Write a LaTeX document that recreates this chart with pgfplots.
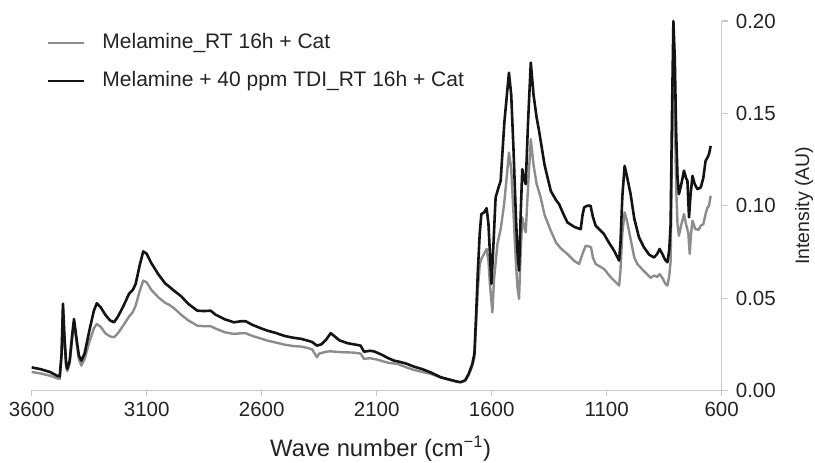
\documentclass[border=0pt]{standalone}
\usepackage{pgfplots}
\pgfplotsset{compat=1.18}
\usepackage{fontspec}
\setmainfont{Liberation Sans}
\definecolor{axgray}{RGB}{200,200,200}
\definecolor{lgray}{RGB}{140,140,140}
\definecolor{dblack}{RGB}{20,20,20}
\definecolor{txt}{RGB}{35,35,35}
\begin{document}
\begin{tikzpicture}
\begin{axis}[
  scale only axis,
  width=690pt, height=369.5pt,
  x dir=reverse,
  xmin=600, xmax=3600, ymin=0, ymax=0.2,
  axis x line*=bottom, axis y line*=right,
  axis line style={axgray, line width=1.2pt},
  xtick={600,1100,1600,2100,2600,3100,3600},
  ytick={0,0.05,0.1,0.15,0.2},
  tick style={axgray, line width=1.2pt},
  major tick length=6pt,
  tick align=outside,
  xticklabel style={/pgf/number format/set thousands separator={}, anchor=base, inner sep=0pt, yshift=-20pt},
  yticklabel style={/pgf/number format/fixed, /pgf/number format/fixed zerofill, /pgf/number format/precision=2, anchor=west, inner sep=0pt, xshift=8pt},
  /pgf/number format/assume math mode=true,
  ticklabel style={font=\fontsize{20.5}{24}\selectfont, text=txt},
  xlabel={Wave number (cm\textsuperscript{−1})},
  ylabel={Intensity (AU)},
  every axis x label/.style={at={(rel axis cs:0.5,0)}, anchor=base, yshift=-66.5pt, xshift=4pt, font=\fontsize{23.8}{27}\selectfont, text=txt, inner sep=0pt},
  every axis y label/.style={at={(rel axis cs:1,0.5)}, xshift=73pt, rotate=90, anchor=north, inner sep=0pt, font=\fontsize{19.5}{22}\selectfont, text=txt},
  legend style={draw=none, fill=none, at={(0,1)}, anchor=north west, xshift=15pt, yshift=-12pt,
    font=\fontsize{21}{24}\selectfont, text=txt, row sep=18pt, column sep=0pt, inner sep=0pt,
    nodes={inner sep=0pt, text height=15pt, text depth=5pt}},
  legend cell align=left,
  legend image code/.code={\draw[#1] (0pt,0pt) -- (36pt,0pt) (53pt,0pt);},
  every axis plot/.append style={line join=round},
]
\addplot[lgray, line width=2.4pt] coordinates {
(3600,0.0100)(3560,0.0092)(3520,0.0080)(3490,0.0066)(3478,0.0063)(3470,0.0190)(3464,0.0450)(3458,0.0280)
(3450,0.0125)(3445,0.0105)(3435,0.0145)(3424,0.0280)(3416,0.0370)(3405,0.0260)(3395,0.0170)(3384,0.0135)
(3370,0.0170)(3350,0.0260)(3330,0.0335)(3317,0.0360)(3300,0.0345)(3280,0.0310)(3260,0.0293)(3242,0.0288)
(3225,0.0310)(3200,0.0355)(3177,0.0400)(3160,0.0425)(3148,0.0460)(3130,0.0540)(3115,0.0595)(3100,0.0585)
(3080,0.0545)(3050,0.0505)(3020,0.0475)(3000,0.0462)(2981,0.0445)(2950,0.0410)(2920,0.0380)(2880,0.0351)
(2850,0.0348)(2822,0.0348)(2800,0.0335)(2760,0.0315)(2720,0.0306)(2690,0.0310)(2670,0.0310)(2640,0.0295)
(2600,0.0280)(2575,0.0270)(2540,0.0260)(2500,0.0248)(2460,0.0240)(2430,0.0238)(2400,0.0230)(2380,0.0222)
(2360,0.0180)(2350,0.0200)(2320,0.0210)(2300,0.0212)(2260,0.0208)(2200,0.0205)(2170,0.0200)(2155,0.0171)
(2130,0.0175)(2100,0.0168)(2050,0.0150)(2010,0.0144)(1970,0.0125)(1940,0.0112)(1900,0.0100)(1865,0.0090)
(1822,0.0070)(1780,0.0056)(1750,0.0047)(1735,0.0045)(1715,0.0055)(1700,0.0085)(1685,0.0130)(1675,0.0180)
(1668,0.0350)(1660,0.0550)(1652,0.0680)(1645,0.0712)(1633,0.0740)(1622,0.0766)(1614,0.0700)(1608,0.0580)
(1597,0.0423)(1590,0.0600)(1575,0.0793)(1560,0.0880)(1546,0.1009)(1535,0.1150)(1525,0.1288)(1515,0.1200)
(1505,0.0950)(1495,0.0700)(1488,0.0560)(1481,0.0496)(1474,0.0750)(1467,0.0937)(1460,0.0890)(1452,0.0856)
(1442,0.1100)(1430,0.1360)(1418,0.1220)(1405,0.1120)(1387,0.1045)(1370,0.0950)(1343,0.0865)(1320,0.0800)
(1300,0.0770)(1271,0.0739)(1240,0.0700)(1220,0.0685)(1205,0.0740)(1191,0.0784)(1178,0.0780)(1168,0.0775)
(1160,0.0720)(1148,0.0685)(1112,0.0658)(1080,0.0610)(1046,0.0568)(1040,0.0650)(1032,0.0850)(1022,0.0964)
(1012,0.0920)(996,0.0820)(980,0.0720)(967,0.0685)(940,0.0649)(909,0.0610)(894,0.0622)(880,0.0615)
(870,0.0630)(858,0.0610)(845,0.0578)(836,0.0568)(828,0.0620)(822,0.0700)(816,0.1300)(810,0.1800)
(804,0.1500)(798,0.1100)(792,0.0900)(786,0.0838)(775,0.0900)(764,0.0955)(755,0.0900)(745,0.0850)
(739,0.0739)(733,0.0850)(727,0.0919)(715,0.0874)(700,0.0870)(691,0.0892)(680,0.0900)(670,0.0955)
(662,0.0990)(655,0.1000)(648,0.1054)
};
\addlegendentry{Melamine\_RT 16h + Cat}
\addplot[dblack, line width=2.6pt] coordinates {
(3600,0.0125)(3560,0.0115)(3520,0.0100)(3490,0.0080)(3478,0.0076)(3470,0.0200)(3464,0.0470)(3458,0.0300)
(3450,0.0140)(3445,0.0117)(3435,0.0160)(3424,0.0300)(3416,0.0387)(3405,0.0280)(3395,0.0190)(3384,0.0162)
(3370,0.0200)(3350,0.0320)(3330,0.0430)(3317,0.0472)(3300,0.0450)(3280,0.0410)(3260,0.0380)(3242,0.0369)
(3225,0.0400)(3200,0.0460)(3177,0.0523)(3160,0.0545)(3148,0.0577)(3130,0.0680)(3115,0.0753)(3100,0.0740)
(3080,0.0690)(3050,0.0630)(3020,0.0580)(3000,0.0560)(2981,0.0540)(2950,0.0510)(2920,0.0470)(2880,0.0432)
(2850,0.0430)(2822,0.0432)(2800,0.0410)(2760,0.0385)(2720,0.0369)(2690,0.0375)(2670,0.0375)(2640,0.0355)
(2600,0.0335)(2575,0.0324)(2540,0.0312)(2500,0.0295)(2460,0.0285)(2430,0.0280)(2400,0.0270)(2380,0.0262)
(2360,0.0243)(2340,0.0250)(2320,0.0275)(2300,0.0310)(2285,0.0295)(2260,0.0270)(2240,0.0262)(2227,0.0256)
(2200,0.0250)(2170,0.0243)(2155,0.0210)(2130,0.0215)(2112,0.0212)(2080,0.0195)(2050,0.0175)(2025,0.0162)
(2000,0.0155)(1970,0.0145)(1940,0.0130)(1900,0.0115)(1860,0.0095)(1822,0.0072)(1780,0.0058)(1750,0.0048)
(1735,0.0045)(1715,0.0055)(1700,0.0090)(1685,0.0140)(1675,0.0200)(1668,0.0400)(1660,0.0650)(1652,0.0850)
(1645,0.0955)(1633,0.0964)(1622,0.0987)(1614,0.0900)(1608,0.0750)(1601,0.0577)(1592,0.0800)(1583,0.1045)
(1570,0.1100)(1561,0.1135)(1545,0.1450)(1525,0.1720)(1515,0.1600)(1505,0.1300)(1495,0.0950)(1488,0.0750)
(1481,0.0649)(1474,0.0950)(1467,0.1198)(1460,0.1150)(1452,0.1117)(1442,0.1450)(1430,0.1775)(1418,0.1600)
(1405,0.1480)(1394,0.1405)(1370,0.1220)(1343,0.1080)(1320,0.1030)(1307,0.1009)(1290,0.0960)(1271,0.0910)
(1240,0.0885)(1213,0.0873)(1205,0.0950)(1198,0.0991)(1185,0.1000)(1170,0.1000)(1160,0.0940)(1148,0.0892)
(1130,0.0870)(1112,0.0847)(1090,0.0800)(1068,0.0757)(1046,0.0703)(1040,0.0800)(1032,0.1050)(1022,0.1216)
(1012,0.1160)(996,0.1063)(980,0.0930)(960,0.0830)(938,0.0775)(915,0.0735)(894,0.0720)(880,0.0740)
(870,0.0766)(858,0.0739)(845,0.0705)(836,0.0694)(828,0.0760)(822,0.0900)(816,0.1500)(810,0.2000)
(804,0.1800)(798,0.1400)(792,0.1150)(786,0.1063)(775,0.1120)(764,0.1190)(755,0.1150)(749,0.1135)
(742,0.0937)(736,0.1050)(727,0.1162)(718,0.1120)(706,0.1090)(691,0.1099)(680,0.1150)(670,0.1243)
(662,0.1260)(655,0.1280)(648,0.1324)
};
\addlegendentry{Melamine + 40 ppm TDI\_RT 16h + Cat}
\end{axis}
\pgfresetboundingbox
\path[use as bounding box] ([shift={(-31.7pt,-72.5pt)}]current axis.south west) rectangle ++(815pt,463pt);
\end{tikzpicture}
\end{document}
